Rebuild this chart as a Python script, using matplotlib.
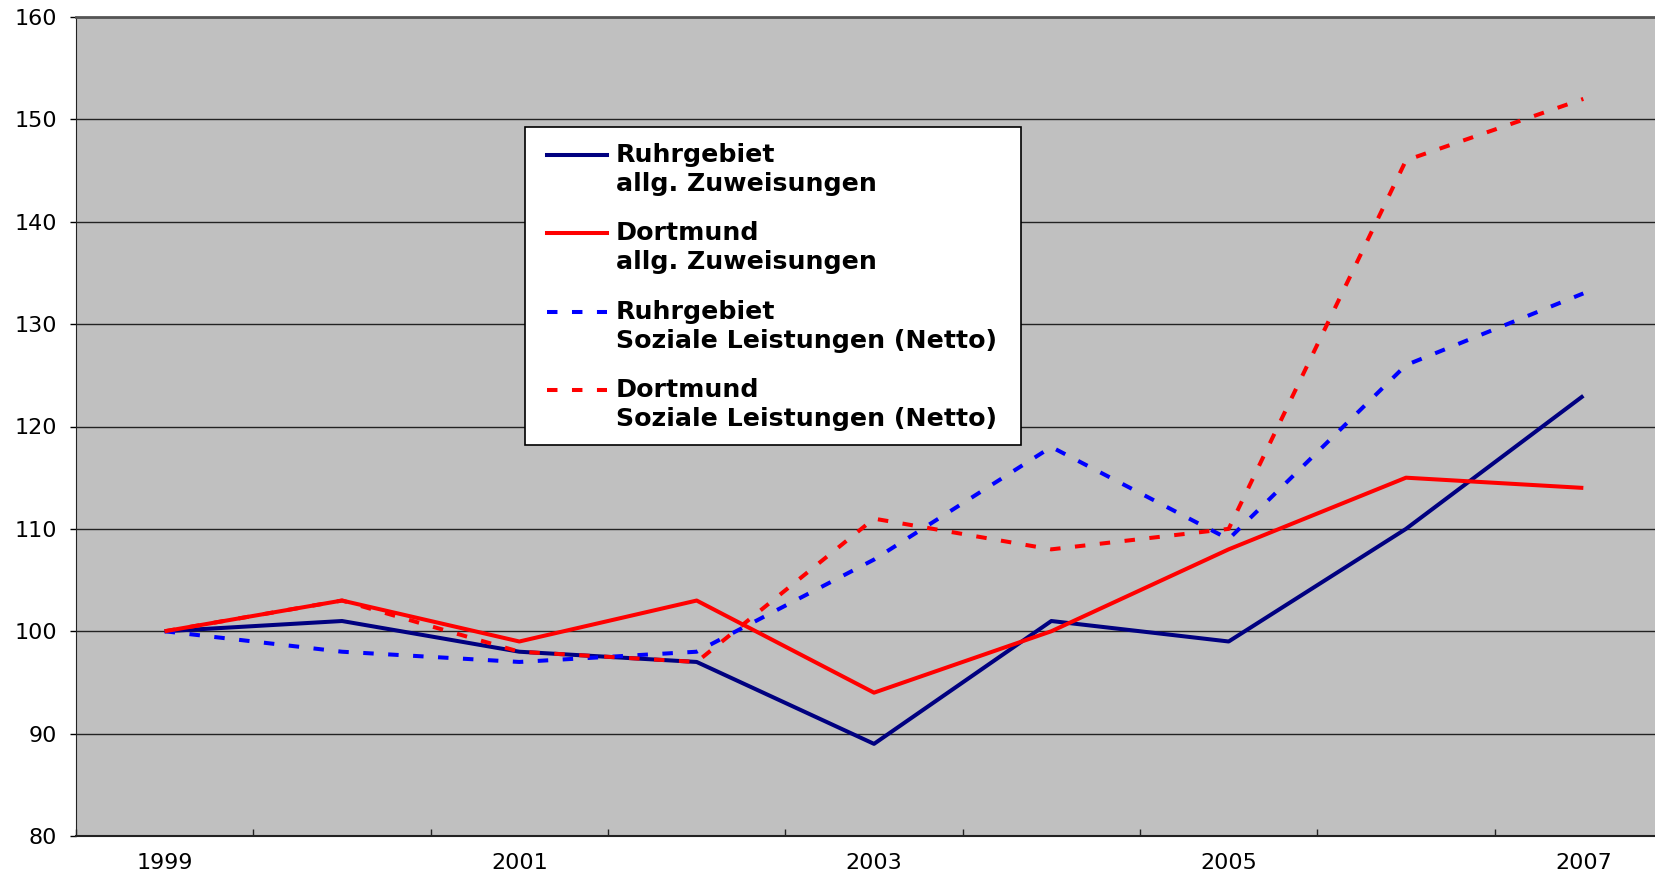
import matplotlib
matplotlib.use("Agg")
import matplotlib.pyplot as plt
from matplotlib.lines import Line2D
from matplotlib.patches import Rectangle

years = ["1999", "2000", "2001", "2002", "2003", "2004", "2005", "2006", "2007"]
ruhr_zuw = [100, 101, 98, 97, 89, 101, 99, 110, 123]
dort_zuw = [100, 103, 99, 103, 94, 100, 108, 115, 114]
ruhr_soz = [100, 98, 97, 98, 107, 118, 109, 126, 133]
dort_soz = [100, 103, 98, 97, 111, 108, 110, 146, 152]

labels = [
    ("Ruhrgebiet", "allg. Zuweisungen"),
    ("Dortmund", "allg. Zuweisungen"),
    ("Ruhrgebiet", "Soziale Leistungen (Netto)"),
    ("Dortmund", "Soziale Leistungen (Netto)"),
]
colors = ["#000080", "#FF0000", "#0000FF", "#FF0000"]
dashed = (0, (2.6, 3.6))
styles = ["-", "-", dashed, dashed]

plt.rcParams["font.family"] = ["DejaVu Sans"]

W, H = 1655, 877
fig = plt.figure(figsize=(W / 100, H / 100), dpi=100)
ax = fig.add_axes([76 / W, 1 - 836 / H, 1596 / W, (836 - 17) / H])
ax.set_facecolor("#C0C0C0")

x = list(range(len(years)))
series = [ruhr_zuw, dort_zuw, ruhr_soz, dort_soz]
for vals, c, ls in zip(series, colors, styles):
    ax.plot(x, vals, color=c, linestyle=ls, lw=2.9, solid_capstyle="butt")

ax.set_xlim(-0.5, len(years) - 0.5)
ax.set_ylim(80, 160)
ax.set_yticks(range(80, 161, 10))
ax.yaxis.grid(True, color="#222222", lw=1.0)
ax.set_axisbelow(True)

ax.set_xticks(x[::2])
ax.set_xticklabels(years[::2])
ax.set_xticks([i - 0.5 for i in range(len(years) + 1)], minor=True)
ax.tick_params(axis="x", which="major", length=0, pad=12, labelsize=16)
ax.tick_params(axis="x", which="minor", direction="in", length=5, width=1, color="#222222")
ax.tick_params(axis="y", length=4.5, width=1, pad=9, labelsize=16)

ax.spines["right"].set_visible(False)
ax.spines["top"].set_color("#555555")
ax.spines["top"].set_linewidth(2)
ax.spines["left"].set_color("#222222")
ax.spines["bottom"].set_color("#222222")
ax.spines["bottom"].set_linewidth(1.5)

# legend drawn by hand so the handle sits on the first text line
def fx(px):
    return px / W

def fy(py):
    return 1 - py / H

fig.patches.append(Rectangle((fx(524.5), fy(445.4)), fx(1020.6) - fx(524.5), fy(126.6) - fy(445.4),
                             transform=fig.transFigure, facecolor="white", edgecolor="black", lw=1.2,
                             zorder=5))
entry_y = [155.1, 233.2, 312.4, 390.5]
for (l1, l2), c, ls, ey in zip(labels, colors, styles, entry_y):
    fig.add_artist(Line2D([fx(546.7), fx(606.9)], [fy(ey), fy(ey)], transform=fig.transFigure,
                          color=c, linestyle=ls, lw=2.9, zorder=6))
    fig.text(fx(616), fy(ey), l1, fontsize=18.2, fontweight="bold", va="center", ha="left", zorder=6)
    fig.text(fx(616), fy(ey + 28.5), l2, fontsize=18.2, fontweight="bold", va="center", ha="left", zorder=6)

fig.savefig("out.png", dpi=100)
